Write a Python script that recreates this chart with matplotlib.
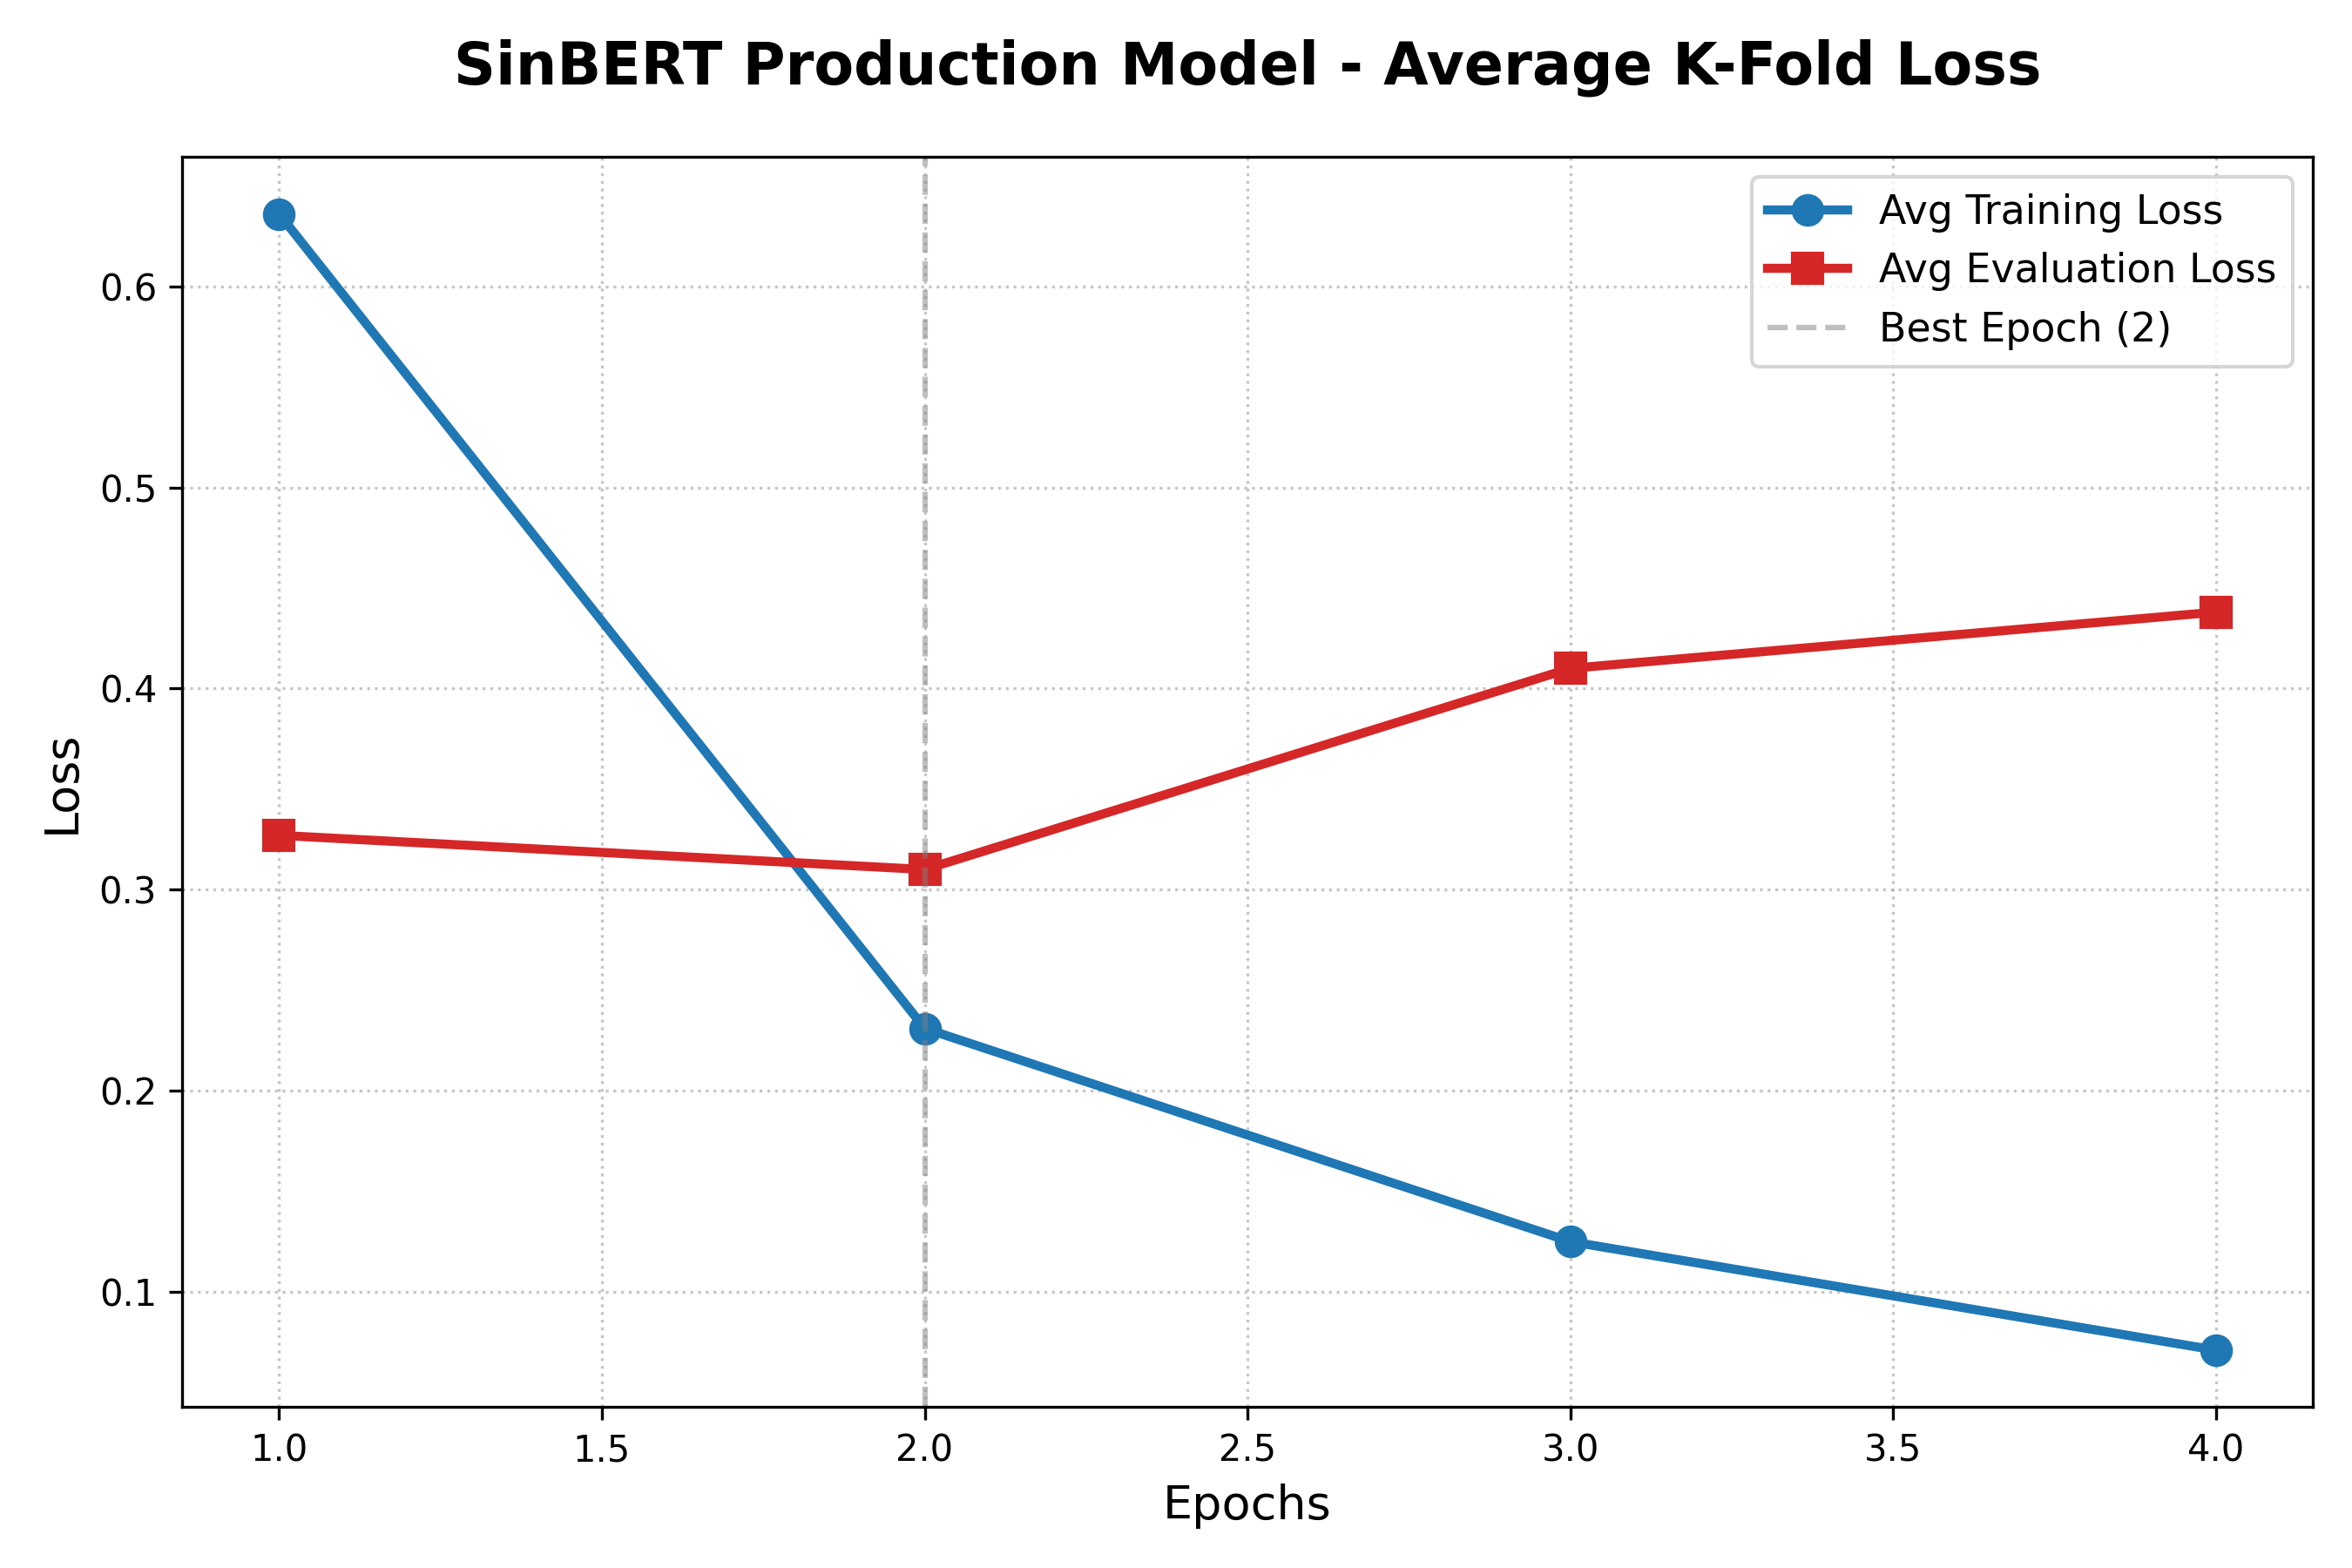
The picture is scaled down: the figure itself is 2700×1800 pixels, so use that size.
#!/usr/bin/env python3

import matplotlib
matplotlib.use("Agg")
import matplotlib.pyplot as plt

## DATA

epochs = [1, 2, 3, 4]
train_loss = [0.636, 0.231, 0.125, 0.071]
eval_loss = [0.327, 0.310, 0.410, 0.438]
best_epoch = 2

## PLOT

fig, ax = plt.subplots(figsize = (9, 6), dpi = 300)

ax.plot(epochs, train_loss, "o-", color = "#1f77b4", lw = 2.5, markersize = 8, label = "Avg Training Loss")
ax.plot(epochs, eval_loss, "s-", color = "#d62728", lw = 2.5, markersize = 8, label = "Avg Evaluation Loss")
ax.axvline(best_epoch, color = "gray", linestyle = "--", alpha = 0.5, label = f"Best Epoch ({best_epoch})")

ax.set_title("SinBERT Production Model - Average K-Fold Loss", fontsize = 16, fontweight = "bold", pad = 20)
ax.set_xlabel("Epochs", fontsize = 13)
ax.set_ylabel("Loss", fontsize = 13)
ax.grid(True, linestyle = ":", alpha = 0.7)
ax.legend(fontsize = 11)

fig.tight_layout()
fig.savefig("out.png")
